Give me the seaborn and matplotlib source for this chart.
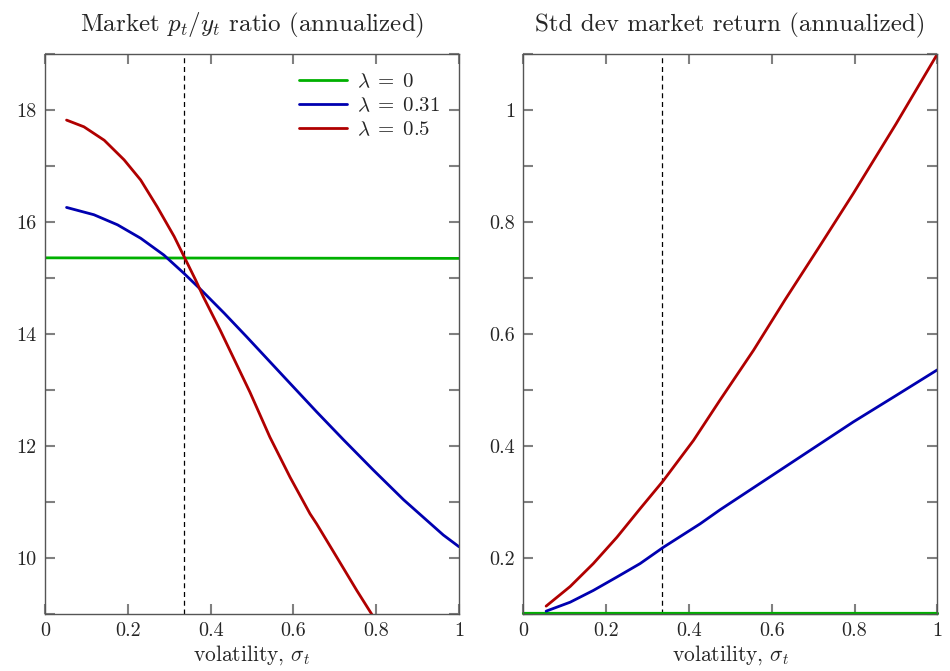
import numpy as np
import pandas as pd
import matplotlib
matplotlib.use("Agg")
import matplotlib.pyplot as plt
import seaborn as sns
from matplotlib.ticker import FuncFormatter, MultipleLocator

# values (volatility sigma_t on x)
green_x = [0.0, 1.0]
green_pd = [15.36, 15.35]
green_sd = [0.102, 0.102]

blue_x_pd = [0.052, 0.118, 0.175, 0.231, 0.287, 0.336, 0.378, 0.433, 0.487, 0.584,
             0.656, 0.721, 0.793, 0.866, 0.930, 0.962, 1.0]
blue_pd = [16.26, 16.13, 15.95, 15.71, 15.41, 15.08, 14.78, 14.37, 13.95, 13.18,
           12.61, 12.11, 11.57, 11.04, 10.62, 10.41, 10.2]

red_x_pd = [0.052, 0.094, 0.143, 0.191, 0.231, 0.271, 0.312, 0.336, 0.364, 0.382,
            0.423, 0.495, 0.543, 0.592, 0.640, 0.656, 0.705, 0.753, 0.793]
red_pd = [17.82, 17.70, 17.46, 17.11, 16.75, 16.27, 15.74, 15.38, 14.96, 14.67,
          14.07, 12.96, 12.16, 11.44, 10.79, 10.61, 10.01, 9.42, 8.95]

blue_x_sd = [0.055, 0.113, 0.169, 0.226, 0.282, 0.338, 0.427, 0.475, 0.596, 0.797, 0.9, 1.0]
blue_sd = [0.105, 0.121, 0.142, 0.166, 0.190, 0.219, 0.261, 0.286, 0.345, 0.443, 0.49, 0.536]

red_x_sd = [0.055, 0.113, 0.169, 0.226, 0.282, 0.338, 0.411, 0.475, 0.556, 0.632,
            0.715, 0.797, 0.9, 1.0]
red_sd = [0.114, 0.149, 0.190, 0.237, 0.288, 0.338, 0.410, 0.482, 0.571, 0.661,
          0.756, 0.851, 0.975, 1.1]

labels = [r'$\lambda\;=\;0$', r'$\lambda\;=\;0.31$', r'$\lambda\;=\;0.5$']
colors = ['#00b000', '#0000b0', '#b00000']
sigma_bar = 0.336

sns.set_style('ticks')
plt.rcParams['font.family'] = 'serif'
plt.rcParams['font.serif'] = ['cmr10', 'DejaVu Serif']
plt.rcParams['mathtext.fontset'] = 'cm'
plt.rcParams['axes.formatter.use_mathtext'] = True
plt.rcParams['axes.unicode_minus'] = False

fig = plt.figure(figsize=(9.5, 6.71), dpi=100)
ax1 = fig.add_axes([0.0474, 0.085, 0.4358, 0.8345])
ax2 = fig.add_axes([0.5509, 0.085, 0.4358, 0.8345])

# left panel: price/dividend ratio
sns.lineplot(x=green_x, y=green_pd, ax=ax1, color=colors[0], lw=2.0, label=labels[0])
sns.lineplot(x=blue_x_pd, y=blue_pd, ax=ax1, color=colors[1], lw=2.0, label=labels[1])
sns.lineplot(x=red_x_pd, y=red_pd, ax=ax1, color=colors[2], lw=2.0, label=labels[2])

# right panel: std dev of returns
sns.lineplot(x=green_x, y=green_sd, ax=ax2, color=colors[0], lw=2.3, clip_on=False)
sns.lineplot(x=blue_x_sd, y=blue_sd, ax=ax2, color=colors[1], lw=2.0)
sns.lineplot(x=red_x_sd, y=red_sd, ax=ax2, color=colors[2], lw=2.0)

fmt = FuncFormatter(lambda v, p: '%g' % round(v, 3))
for ax in (ax1, ax2):
    ax.axvline(sigma_bar, color='black', lw=0.9, ls=(0, (4, 3)), zorder=1)
    ax.set_xlim(0, 1)
    ax.xaxis.set_major_locator(MultipleLocator(0.2))
    ax.xaxis.set_major_formatter(fmt)
    ax.set_xlabel(r'volatility, $\sigma_t$', fontsize=15.5, labelpad=2)
    ax.tick_params(which='both', direction='in', top=True, right=True,
                   color='#808080', width=1.5, labelsize=14.5, pad=6)
    ax.tick_params(which='major', length=7)
    ax.tick_params(which='minor', length=7)
    for s in ax.spines.values():
        s.set_color('#555555')
        s.set_linewidth(1.0)

ax1.set_ylim(9, 19)
ax1.yaxis.set_major_locator(MultipleLocator(2))
ax1.yaxis.set_minor_locator(MultipleLocator(1))
ax1.yaxis.set_major_formatter(fmt)
ax1.set_title(r'Market $p_t/y_t$ ratio (annualized)', fontsize=18, pad=16)

ax2.set_ylim(0.1, 1.1)
ax2.yaxis.set_major_locator(MultipleLocator(0.2))
ax2.yaxis.set_minor_locator(MultipleLocator(0.1))
ax2.yaxis.set_major_formatter(fmt)
ax2.set_title('Std dev market return (annualized)', fontsize=18, pad=16)

ax1.legend(loc='upper right', frameon=False, fontsize=15, handlelength=2.3,
           borderaxespad=0.5, labelspacing=0.25, handletextpad=0.5)

fig.savefig('out.png', dpi=100)
